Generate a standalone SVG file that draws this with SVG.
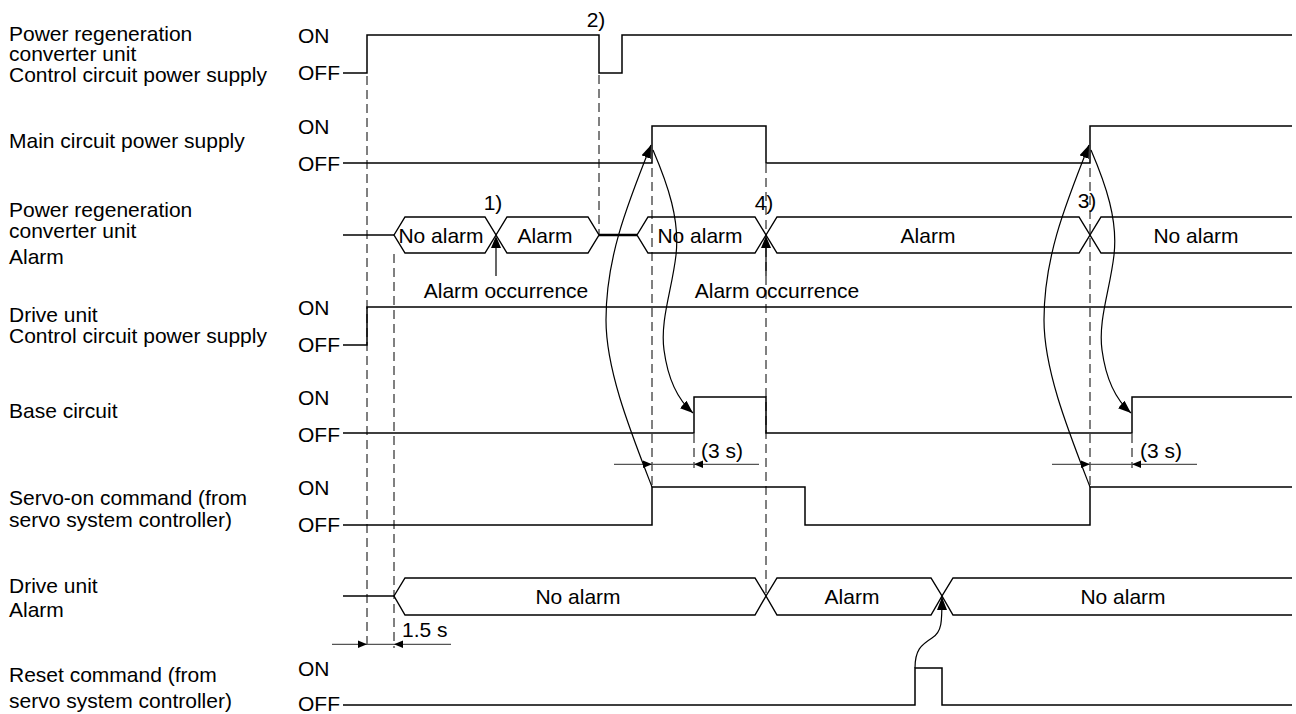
<svg xmlns="http://www.w3.org/2000/svg" width="1296" height="714" viewBox="0 0 1296 714">
<style>
.t{font-family:"Liberation Sans",Arial,sans-serif;font-size:21px;fill:#000}
.m{text-anchor:middle}
.sig{fill:none;stroke:#000;stroke-width:1.5}
.hex{fill:none;stroke:#000;stroke-width:1.4;stroke-linejoin:miter}
.dash{fill:none;stroke:#000;stroke-width:1;stroke-dasharray:9 5}
.dim{fill:none;stroke:#555;stroke-width:1.2}
.cur{fill:none;stroke:#000;stroke-width:1.2}
.ah{fill:#000}
</style>
<defs>
<marker id="ah" viewBox="0 0 13 10" refX="13" refY="5" markerWidth="13" markerHeight="10" markerUnits="userSpaceOnUse" orient="auto"><path d="M0,0 L13,5 L0,10 z" fill="#000"/></marker>
</defs>

<g id="sig-prc-ccps">
<text class="t" x="9" y="40.5">Power regeneration</text>
<text class="t" x="9" y="61">converter unit</text>
<text class="t" x="9" y="81.5">Control circuit power supply</text>
<text class="t" x="298" y="43">ON</text>
<text class="t" x="298" y="80">OFF</text>
<path class="sig" d="M343,73 H367 V35 H599 V73 H622 V35 H1292"/>
<text class="t m" x="596" y="27">2)</text>
</g>

<g id="sig-main">
<text class="t" x="9" y="148">Main circuit power supply</text>
<text class="t" x="298" y="134">ON</text>
<text class="t" x="298" y="171">OFF</text>
<path class="sig" d="M343,163 H652 V126 H766 V163 H1090 V126 H1292"/>
</g>

<g id="sig-prc-alarm">
<text class="t" x="9" y="217">Power regeneration</text>
<text class="t" x="9" y="237.5">converter unit</text>
<text class="t" x="9" y="264">Alarm</text>
<path class="sig" d="M343,235 H394"/>
<path class="hex" d="M394,235 L405,217 H485 L496,235 L485,253 H405 Z"/>
<path class="hex" d="M496,235 L507,217 H588 L599,235 L588,253 H507 Z"/>
<path class="sig" d="M599,235 H637" style="stroke-width:2.6"/>
<path class="hex" d="M637,235 L648,217 H755 L766,235 L755,253 H648 Z"/>
<path class="hex" d="M766,235 L777,217 H1079 L1090,235 L1079,253 H777 Z"/>
<path class="hex" d="M1292,217 H1101 L1090,235 L1101,253 H1292"/>
<text class="t m" x="441" y="242.5">No alarm</text>
<text class="t m" x="545" y="242.5">Alarm</text>
<text class="t m" x="700" y="242.5">No alarm</text>
<text class="t m" x="928" y="242.5">Alarm</text>
<text class="t m" x="1196" y="242.5">No alarm</text>
<text class="t m" x="493" y="210">1)</text>
<text class="t m" x="764" y="210">4)</text>
<text class="t m" x="1087" y="208">3)</text>
<path class="cur" d="M496,276 V246"/>
<polygon class="ah" points="491,248 496,236 501,248"/>
<text class="t m" x="506" y="298">Alarm occurrence</text>
<path class="cur" d="M766,276 V246"/>
<polygon class="ah" points="761,248 766,236 771,248"/>
<text class="t m" x="777" y="298">Alarm occurrence</text>
</g>

<g id="sig-drive-ccps">
<text class="t" x="9" y="321.5">Drive unit</text>
<text class="t" x="9" y="343">Control circuit power supply</text>
<text class="t" x="298" y="315">ON</text>
<text class="t" x="298" y="352">OFF</text>
<path class="sig" d="M343,345 H367 V307 H1292"/>
</g>

<g id="sig-base">
<text class="t" x="9" y="418">Base circuit</text>
<text class="t" x="298" y="405">ON</text>
<text class="t" x="298" y="442">OFF</text>
<path class="sig" d="M343,433 H694 V397 H766 V433 H1132 V397 H1292"/>
</g>

<g id="sig-servo">
<text class="t" x="9" y="505">Servo-on command (from</text>
<text class="t" x="9" y="527">servo system controller)</text>
<text class="t" x="298" y="495">ON</text>
<text class="t" x="298" y="532">OFF</text>
<path class="sig" d="M343,525 H652 V487 H805 V525 H1090 V487 H1292"/>
</g>

<g id="sig-drive-alarm">
<text class="t" x="9" y="593">Drive unit</text>
<text class="t" x="9" y="617">Alarm</text>
<path class="sig" d="M343,596 H394"/>
<path class="hex" d="M394,596 L405,578 H755 L766,596 L755,615 H405 Z"/>
<path class="hex" d="M766,596 L777,578 H931 L942,596 L931,615 H777 Z"/>
<path class="hex" d="M1292,578 H953 L942,596 L953,615 H1292"/>
<text class="t m" x="578" y="603.5">No alarm</text>
<text class="t m" x="852" y="603.5">Alarm</text>
<text class="t m" x="1123" y="603.5">No alarm</text>
</g>

<g id="sig-reset">
<text class="t" x="9" y="682">Reset command (from</text>
<text class="t" x="9" y="708">servo system controller)</text>
<text class="t" x="298" y="676">ON</text>
<text class="t" x="298" y="711">OFF</text>
<path class="sig" d="M343,705 H915 V668 H942 V705 H1292"/>
</g>

<g id="connectors">
<path class="dash" d="M367,76 V648"/>
<path class="dash" d="M394,254 V648"/>
<path class="dash" d="M599,75 V234"/>
<path class="dash" d="M652,168 V487"/>
<path class="dash" d="M766,164 V596"/>
<path class="dash" d="M1090,168 V487"/>
<path class="dash" d="M694,434 V468"/>
<path class="dash" d="M1132,434 V468"/>

<path class="dim" d="M614,464.3 H759"/>
<polygon class="ah" points="643,460.5 652,464.3 643,468"/>
<polygon class="ah" points="703,460.5 694,464.3 703,468"/>
<text class="t" x="701" y="458">(3 s)</text>

<path class="dim" d="M1052,464.3 H1197"/>
<polygon class="ah" points="1081,460.5 1090,464.3 1081,468"/>
<polygon class="ah" points="1141,460.5 1132,464.3 1141,468"/>
<text class="t" x="1140" y="458">(3 s)</text>

<path class="dim" d="M332,644.3 H451"/>
<polygon class="ah" points="358,640.5 367,644.3 358,648"/>
<polygon class="ah" points="403,640.5 394,644.3 403,648"/>
<text class="t" x="402" y="637">1.5 s</text>

<path class="cur" marker-end="url(#ah)" d="M652,487 C630,430 606,370 606,320 C606,260 625,210 651,145"/>
<path class="cur" marker-end="url(#ah)" d="M653,150 C668,185 680,220 676,255 C672,290 660,320 664,350 C668,380 678,400 693,413"/>
<path class="cur" marker-end="url(#ah)" d="M1090,487 C1068,430 1044,370 1044,320 C1044,260 1063,210 1089,145"/>
<path class="cur" marker-end="url(#ah)" d="M1091,150 C1106,185 1118,220 1114,255 C1110,290 1098,320 1102,350 C1106,380 1116,400 1131,413"/>
<path class="cur" marker-end="url(#ah)" d="M915,668 C915,650 921,645 932,638 C942,632 942,622 942,597"/>
</g>
</svg>
